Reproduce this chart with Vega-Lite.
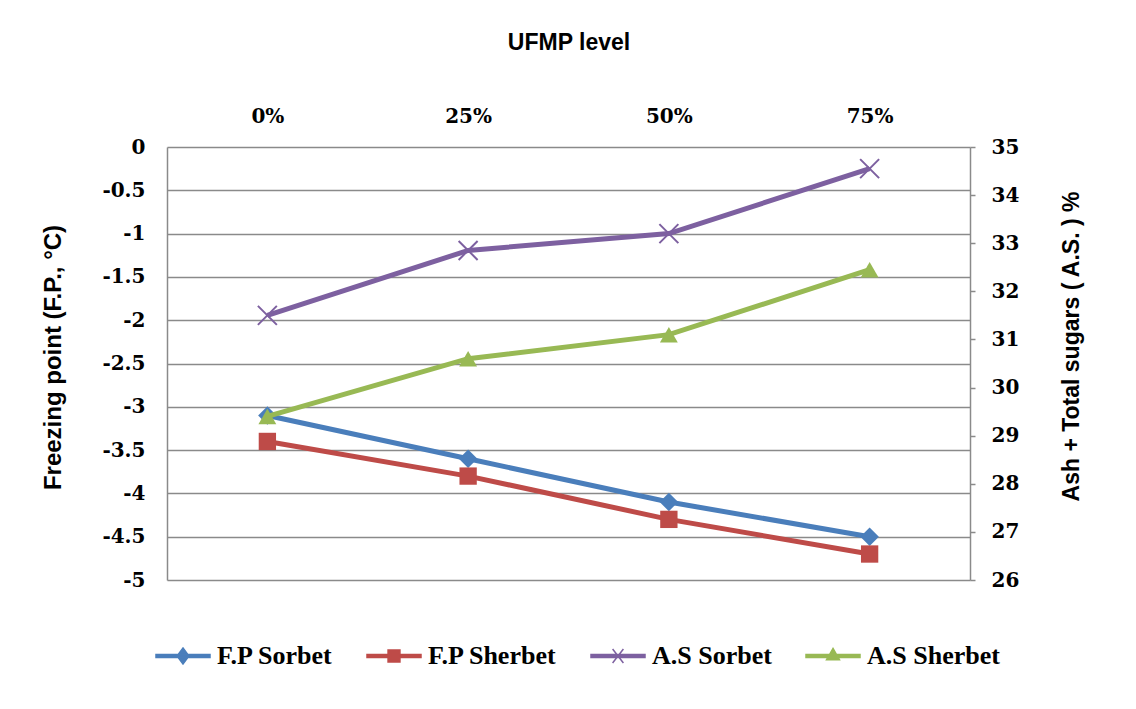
{
  "$schema": "https://vega.github.io/schema/vega-lite/v6.json",
  "width": 803,
  "height": 433,
  "autosize": "none",
  "padding": {"left": 167, "top": 147, "right": 166, "bottom": 129},
  "background": "white",
  "config": {"view": {"stroke": null}},
  "data": {"values": [
    {"level": "0%", "series": "F.P  Sorbet", "group": "FP", "value": -3.1},
    {"level": "25%", "series": "F.P  Sorbet", "group": "FP", "value": -3.6},
    {"level": "50%", "series": "F.P  Sorbet", "group": "FP", "value": -4.1},
    {"level": "75%", "series": "F.P  Sorbet", "group": "FP", "value": -4.5},
    {"level": "0%", "series": "F.P  Sherbet", "group": "FP", "value": -3.4},
    {"level": "25%", "series": "F.P  Sherbet", "group": "FP", "value": -3.8},
    {"level": "50%", "series": "F.P  Sherbet", "group": "FP", "value": -4.3},
    {"level": "75%", "series": "F.P  Sherbet", "group": "FP", "value": -4.7},
    {"level": "0%", "series": "A.S  Sorbet", "group": "AS", "value": 31.5},
    {"level": "25%", "series": "A.S  Sorbet", "group": "AS", "value": 32.85},
    {"level": "50%", "series": "A.S  Sorbet", "group": "AS", "value": 33.2},
    {"level": "75%", "series": "A.S  Sorbet", "group": "AS", "value": 34.55},
    {"level": "0%", "series": "A.S  Sherbet", "group": "AS", "value": 29.4},
    {"level": "25%", "series": "A.S  Sherbet", "group": "AS", "value": 30.6},
    {"level": "50%", "series": "A.S  Sherbet", "group": "AS", "value": 31.1},
    {"level": "75%", "series": "A.S  Sherbet", "group": "AS", "value": 32.45}
  ]},
  "encoding": {
    "x": {
      "field": "level", "type": "ordinal",
      "sort": ["0%", "25%", "50%", "75%"],
      "scale": {"type": "point", "padding": 0.5},
      "axis": {
        "orient": "top", "title": "UFMP level", "labelAngle": 0,
        "domain": false, "ticks": false, "grid": false,
        "labelFont": "DejaVu Serif", "labelFontWeight": "bold", "labelFontSize": 20, "labelColor": "black",
        "labelPadding": 21,
        "titleFont": "Liberation Sans", "titleFontWeight": "bold", "titleFontSize": 23, "titleColor": "black",
        "titlePadding": 52
      }
    },
    "color": {
      "field": "series", "type": "nominal",
      "scale": {"domain": ["F.P  Sorbet", "F.P  Sherbet", "A.S  Sorbet", "A.S  Sherbet"], "range": ["#4A7EBB", "#BE4B48", "#7D60A0", "#98B954"]},
      "legend": {
        "orient": "none", "legendX": -12, "legendY": 481,
        "direction": "horizontal", "columns": 4, "columnPadding": 24,
        "title": null,
        "values": ["F.P  Sorbet", "F.P  Sherbet", "A.S  Sorbet", "A.S  Sherbet"],
        "symbolSize": 2916, "symbolStrokeWidth": 1.5,
        "labelFont": "Liberation Serif", "labelFontWeight": "bold", "labelFontSize": 26, "labelColor": "black",
        "labelOffset": 6, "labelLimit": 300,
        "encode": {
          "symbols": {
            "update": {
              "shape": {"signal": "datum.value == 'F.P  Sorbet' ? 'M-1,-0.06H1V0.06H-1ZM0,-0.3L0.22,0L0,0.3L-0.22,0Z' : datum.value == 'F.P  Sherbet' ? 'M-1,-0.06H1V0.06H-1ZM-0.22,-0.22H0.22V0.22H-0.22Z' : datum.value == 'A.S  Sorbet' ? 'M-1,-0.06H1V0.06H-1ZM-0.2,-0.26L0.2,0.26M-0.2,0.26L0.2,-0.26' : 'M-1,-0.06H1V0.06H-1ZM0,-0.28L0.24,0.14H-0.24Z'"},
              "fill": {"scale": "color", "field": "value"},
              "stroke": {"scale": "color", "field": "value"},
              "strokeWidth": {"value": 1.5},
              "opacity": {"value": 1}
            }
          }
        }
      }
    }
  },
  "layer": [
    {
      "transform": [{"filter": "datum.group == 'FP'"}],
      "encoding": {
        "y": {
          "field": "value", "type": "quantitative",
          "scale": {"domain": [-5, 0], "nice": false, "zero": false},
          "axis": {
            "orient": "left", "title": "Freezing point (F.P., °C)",
            "values": [-5, -4.5, -4, -3.5, -3, -2.5, -2, -1.5, -1, -0.5, 0],
            "labelExpr": "'' + datum.value",
            "grid": true, "gridColor": "#8a8a8a", "gridWidth": 1.5, "gridOpacity": 1,
            "domain": true, "domainColor": "#8a8a8a", "domainWidth": 1.5,
            "ticks": false, "labelPadding": 22,
            "labelFont": "DejaVu Serif", "labelFontWeight": "bold", "labelFontSize": 20, "labelColor": "black",
            "titleFont": "Liberation Sans", "titleFontWeight": "bold", "titleFontSize": 24, "titleColor": "black",
            "titlePadding": 36, "titleY": 210
          }
        }
      },
      "layer": [
        {"mark": {"type": "line", "strokeWidth": 5}},
        {
          "transform": [{"filter": "datum.series == 'F.P  Sorbet'"}],
          "mark": {"type": "point", "shape": "diamond", "filled": true, "opacity": 1, "size": 340}
        },
        {
          "transform": [{"filter": "datum.series == 'F.P  Sherbet'"}],
          "mark": {"type": "point", "shape": "square", "filled": true, "opacity": 1, "size": 300}
        }
      ]
    },
    {
      "transform": [{"filter": "datum.group == 'AS'"}],
      "encoding": {
        "y": {
          "field": "value", "type": "quantitative",
          "scale": {"domain": [26, 35], "nice": false, "zero": false},
          "axis": {
            "orient": "right", "title": "Ash + Total sugars ( A.S. ) %",
            "values": [26, 27, 28, 29, 30, 31, 32, 33, 34, 35],
            "grid": false,
            "domain": true, "domainColor": "#8a8a8a", "domainWidth": 1.5,
            "ticks": true, "tickColor": "#8a8a8a", "tickWidth": 1.5, "tickSize": 5,
            "labelPadding": 16,
            "labelFont": "DejaVu Serif", "labelFontWeight": "bold", "labelFontSize": 20, "labelColor": "black",
            "titleFont": "Liberation Sans", "titleFontWeight": "bold", "titleFontSize": 23, "titleColor": "black",
            "titleAngle": 270, "titlePadding": 65, "titleY": 199
          }
        }
      },
      "layer": [
        {"mark": {"type": "line", "strokeWidth": 5}},
        {
          "transform": [{"filter": "datum.series == 'A.S  Sorbet'"}],
          "mark": {"type": "point", "shape": "M-1,-1L1,1M-1,1L1,-1", "filled": false, "strokeWidth": 2, "opacity": 1, "size": 360}
        },
        {
          "transform": [{"filter": "datum.series == 'A.S  Sherbet'"}],
          "mark": {"type": "point", "shape": "triangle-up", "filled": true, "opacity": 1, "size": 320}
        }
      ]
    }
  ],
  "resolve": {"scale": {"y": "independent"}}
}
